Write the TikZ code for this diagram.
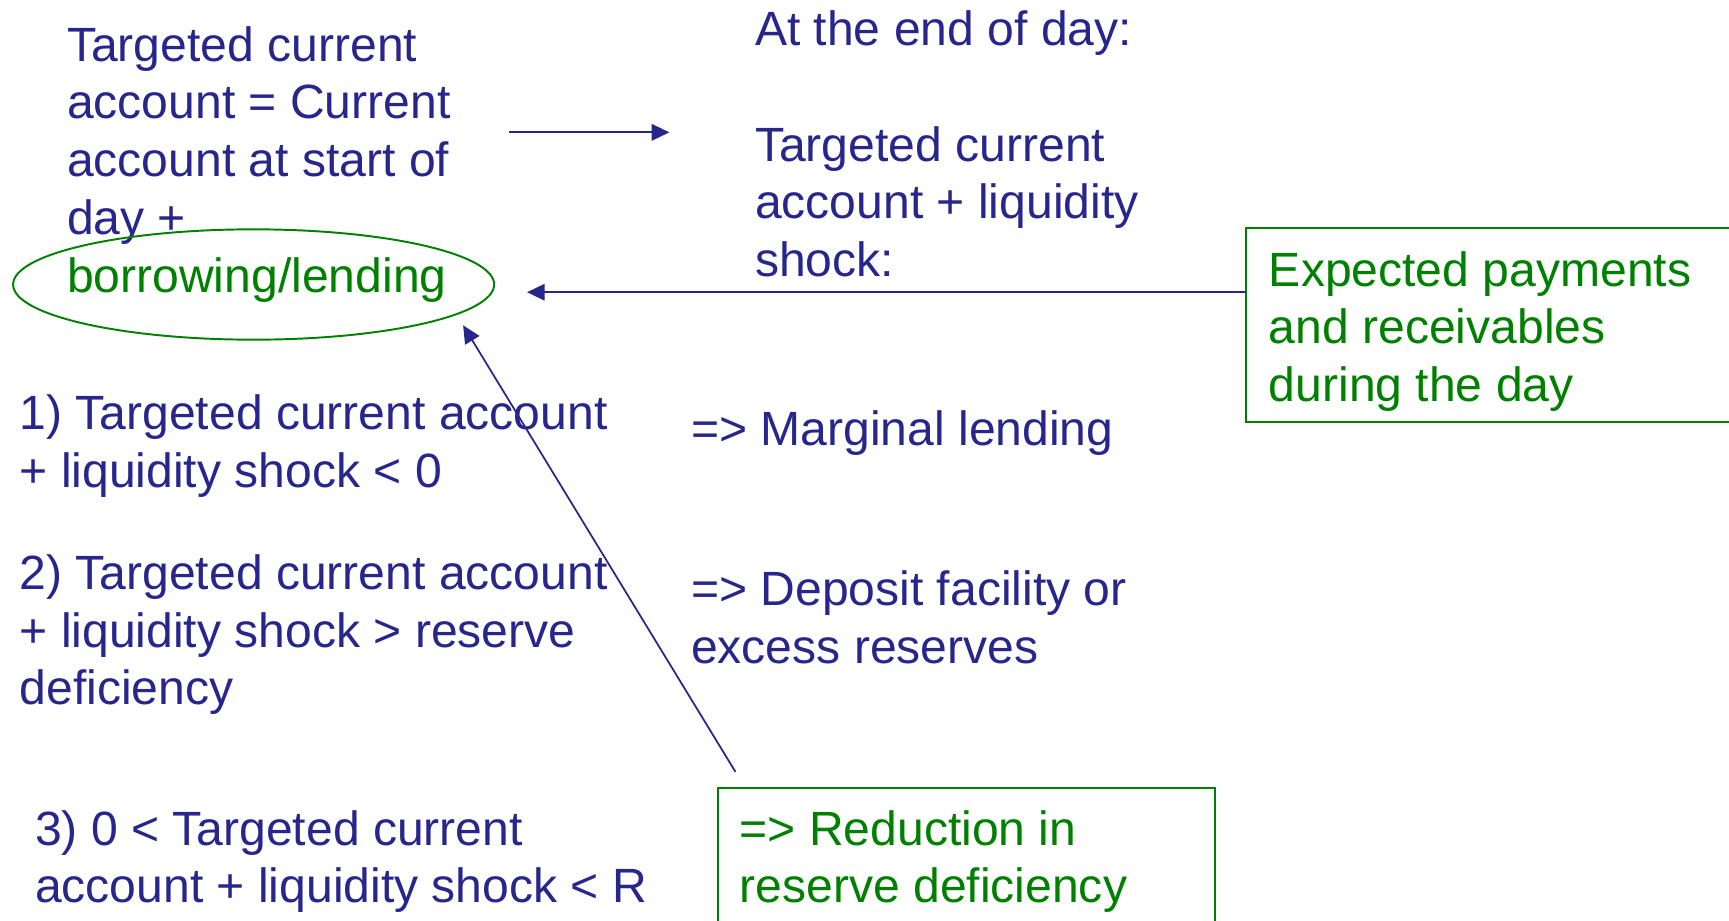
\documentclass[tikz,border=0pt]{standalone}
\usepackage{fontspec}
\setmainfont{Liberation Sans}
\usetikzlibrary{arrows.meta,shapes.geometric}
\definecolor{navy}{RGB}{38,38,140}
\definecolor{leaf}{RGB}{0,128,0}
\tikzset{
	txt/.style={anchor=north west, inner sep=0pt, align=left, text=navy},
	gtxt/.style={txt, text=leaf},
	gbox/.style={draw=leaf, line width=0.5pt},
}
\begin{document}
\begin{tikzpicture}[x=0.01cm, y=-0.01cm, >={Triangle[length=1.6mm,width=1.5mm]},
		font=\fontsize{12.4}{14.9}\selectfont, line width=0.45pt]
		\useasboundingbox (0,0) rectangle (1568,835);
		\clip (0,0) rectangle (1568,835);
		% start of day
		\node[txt] (target) at (60,23) {Targeted current\\account = Current\\account at start of\\day +\\\textcolor{leaf}{borrowing/lending}};
		\node[gbox, ellipse, minimum width=4.36cm, minimum height=1cm, inner sep=0pt] (ring) at (230,258) {};
		% end of day
		\node[txt] (eod) at (684,9) {At the end of day:\\[14.9pt]Targeted current\\account + liquidity\\shock:};
		\node[gtxt] (expect) at (1150,227) {Expected payments\\and receivables\\during the day};
		\draw[gbox] (1130,207) rectangle (1600,383);
		% cases
		\node[txt] (case1) at (17,357) {1) Targeted current account\\+ liquidity shock < 0};
		\node[txt] (res1) at (626,372) {=> Marginal lending};
		\node[txt] (case2) at (17,502) {2) Targeted current account\\+ liquidity shock > reserve\\deficiency};
		\node[txt] (res2) at (626,517) {=> Deposit facility or\\excess reserves};
		\node[txt] (case3) at (31,734) {3) 0 < Targeted current\\account + liquidity shock < R};
		\node[gtxt] (res3) at (670,734) {=> Reduction in\\reserve deficiency};
		\draw[gbox] (651,715) rectangle (1102,860);
		% arrows
		\coordinate (a1) at (462,120);
		\coordinate (a2) at (607,120);
		\coordinate (b1) at (1130,265);
		\coordinate (b2) at (478,265);
		\coordinate (c1) at (667,700);
		\coordinate (c2) at (420,295);
		\draw[->, navy] (a1) -- (a2);
		\draw[->, navy] (b1) -- (b2);
		\draw[->, navy] (c1) -- (c2);
	\end{tikzpicture}
\end{document}
